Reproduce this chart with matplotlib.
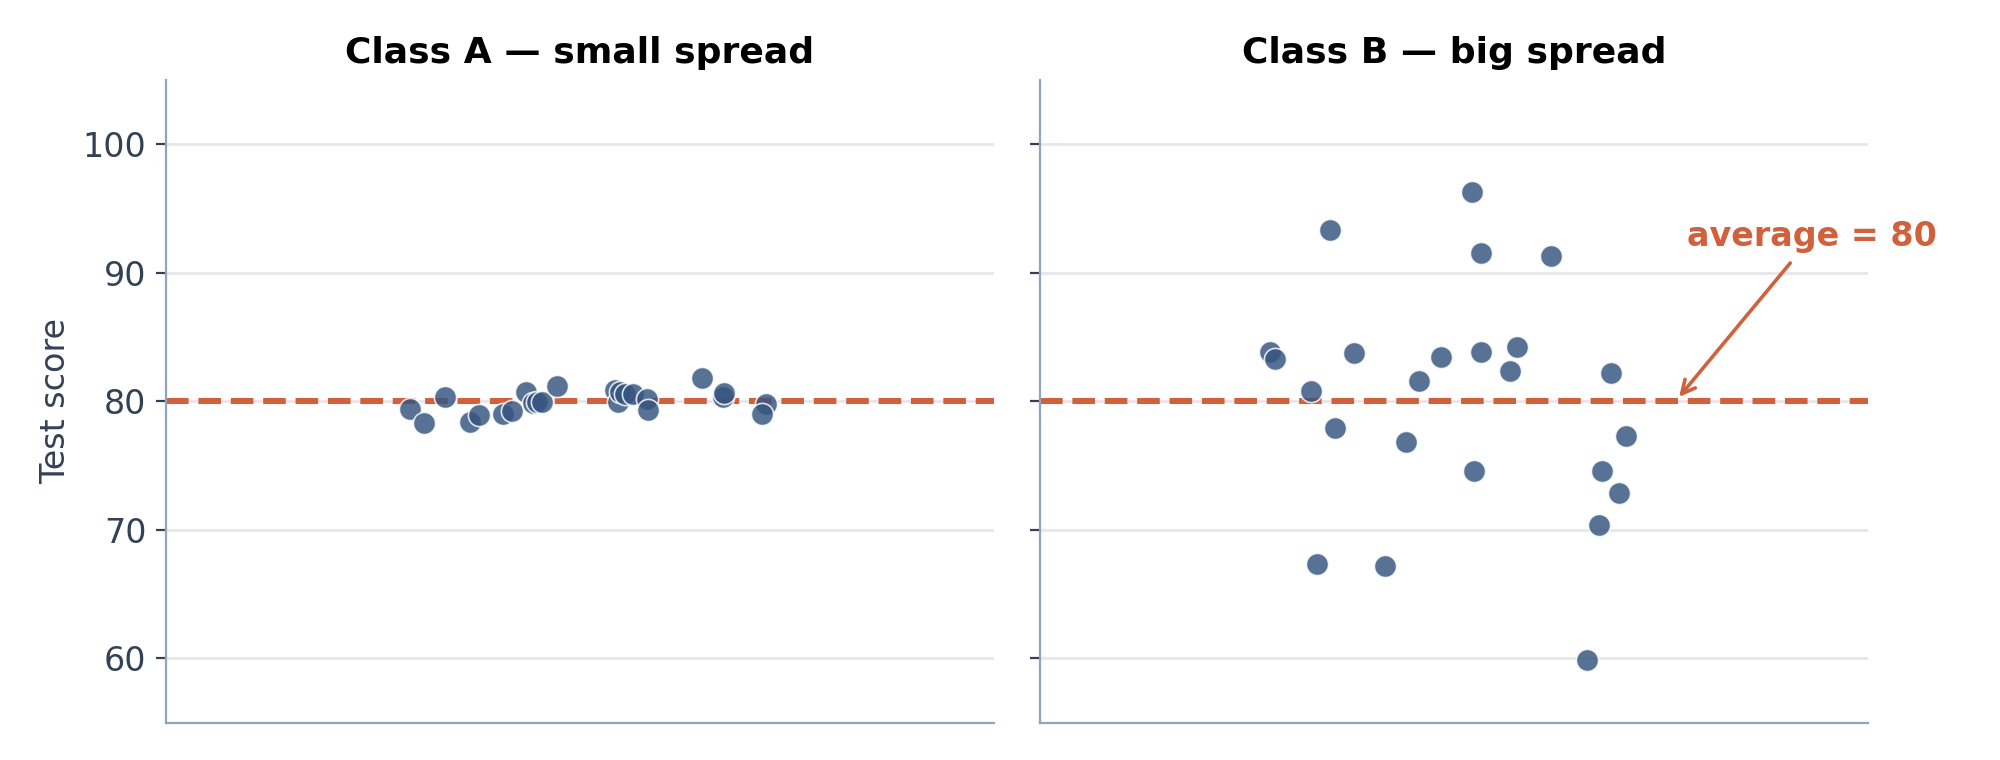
"""
Two classes, same average (80), very different spread — jittered strip plots.
"""

import matplotlib
matplotlib.use("Agg")
import matplotlib.pyplot as plt

plt.rcParams["font.family"] = ["DejaVu Sans"]

# colours
POINT = "#365580"
ACCENT = "#d1603d"
GRID = "#e5e7eb"
SPINE = "#94a3b8"
TEXT = "#334155"

AVERAGE = 80

# Class A: horizontal jitter and scores
a_jitter = [-0.411, -0.376, -0.325, -0.266, -0.243, -0.186, -0.163, -0.130,
            -0.114, -0.104, -0.091, -0.055, 0.085, 0.093, 0.098, 0.109,
            0.128, 0.161, 0.165, 0.295, 0.346, 0.349, 0.449, 0.439]
a_scores = [79.43, 78.30, 80.37, 78.40, 78.90, 78.99, 79.25, 80.70,
            79.90, 79.95, 79.95, 81.17, 80.90, 79.95, 80.75, 80.60,
            80.54, 80.18, 79.35, 81.84, 80.35, 80.68, 79.77, 78.99]

# Class B: horizontal jitter and scores
b_jitter = [0.044, -0.299, 0.066, 0.235, -0.444, -0.432, -0.243, -0.031,
            0.066, 0.153, 0.134, 0.378, -0.084, -0.345, -0.287, -0.115,
            0.416, 0.049, 0.358, 0.399, 0.351, -0.330, -0.166, 0.322]
b_scores = [96.24, 93.29, 91.50, 91.27, 83.81, 83.26, 83.73, 83.44,
            83.81, 84.20, 82.33, 82.20, 81.55, 80.78, 77.90, 76.81,
            77.28, 74.56, 74.56, 72.85, 70.37, 67.33, 67.18, 59.88]

titles = ["Class A — small spread", "Class B — big spread"]
y_ticks = [60, 70, 80, 90, 100]


def style_axis(ax):
    ax.set_xlim(-1, 1)
    ax.set_ylim(55, 105)
    ax.set_yticks(y_ticks)
    ax.set_xticks([])
    ax.grid(axis="y", color=GRID, linewidth=1.0)
    ax.set_axisbelow(True)
    ax.spines["top"].set_visible(False)
    ax.spines["right"].set_visible(False)
    ax.spines["left"].set_color(SPINE)
    ax.spines["bottom"].set_color(SPINE)
    ax.tick_params(axis="y", colors=TEXT, labelsize=12, length=3.5)


fig, axes = plt.subplots(1, 2, figsize=(10, 3.8), dpi=200, sharey=True)
fig.subplots_adjust(left=0.083, right=0.934, top=0.895, bottom=0.049, wspace=0.056)

for ax, xs, ys, title in zip(axes, [a_jitter, b_jitter], [a_scores, b_scores], titles):
    style_axis(ax)
    ax.axhline(AVERAGE, color=ACCENT, linestyle="--", linewidth=2.2, zorder=2)
    ax.scatter(xs, ys, s=64, color=POINT, alpha=0.83,
               edgecolors="white", linewidths=0.6, zorder=3)
    ax.set_title(title, fontsize=13, fontweight="bold", pad=6)

axes[0].set_ylabel("Test score", fontsize=12, color=TEXT)
axes[1].tick_params(axis="y", labelleft=False)

axes[1].annotate("average = 80", xy=(0.535, AVERAGE), xytext=(0.865, 92.8),
                 ha="center", va="center", fontsize=12, fontweight="bold",
                 color=ACCENT, annotation_clip=False,
                 arrowprops=dict(arrowstyle="->", color=ACCENT, lw=1.3))

fig.savefig("out.png", dpi=200)
